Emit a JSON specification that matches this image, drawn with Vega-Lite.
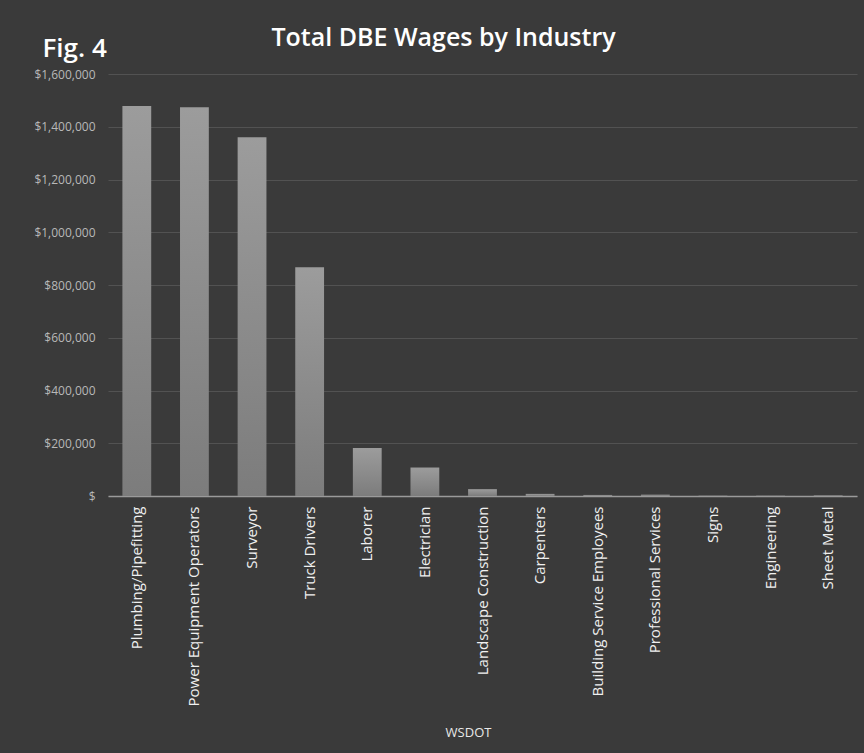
{
  "$schema": "https://vega.github.io/schema/vega-lite/v6.json",
  "width": 749,
  "height": 422,
  "autosize": {"type": "none"},
  "padding": {"left": 108, "top": 74, "right": 7, "bottom": 257},
  "background": "#3a3a3a",
  "title": {
    "text": "Total DBE Wages by Industry",
    "font": "Open Sans",
    "fontSize": 25,
    "fontWeight": 600,
    "color": "#ffffff",
    "anchor": "middle",
    "frame": "group",
    "dx": -39,
    "offset": -16
  },
  "data": {
    "values": [
      {"industry": "Plumbing/Pipefitting", "wages": 1479000},
      {"industry": "Power Equipment Operators", "wages": 1474000},
      {"industry": "Surveyor", "wages": 1360000},
      {"industry": "Truck Drivers", "wages": 867000},
      {"industry": "Laborer", "wages": 182000},
      {"industry": "Electrician", "wages": 108000},
      {"industry": "Landscape Construction", "wages": 26000},
      {"industry": "Carpenters", "wages": 8000},
      {"industry": "Building Service Employees", "wages": 4000},
      {"industry": "Professional Services", "wages": 5000},
      {"industry": "Signs", "wages": 1000},
      {"industry": "Engineering", "wages": 1000},
      {"industry": "Sheet Metal", "wages": 2000}
    ]
  },
  "mark": {
    "type": "bar",
    "color": {
      "gradient": "linear",
      "x1": 0, "y1": 0, "x2": 0, "y2": 1,
      "stops": [
        {"offset": 0, "color": "#9c9c9c"},
        {"offset": 1, "color": "#7c7c7c"}
      ]
    }
  },
  "encoding": {
    "x": {
      "field": "industry",
      "type": "nominal",
      "sort": null,
      "scale": {"paddingInner": 0.5, "paddingOuter": 0.25},
      "axis": {
        "title": "WSDOT",
        "titleFont": "Open Sans",
        "titleFontSize": 13,
        "titleFontWeight": "normal",
        "titleColor": "#e8e8e8",
        "titleY": 230,
        "titleX": 360,
        "labelAngle": -90,
        "labelFont": "Open Sans",
        "labelFontSize": 15,
        "labelColor": "#f0f0f0",
        "labelPadding": 10,
        "labelLimit": 250,
        "ticks": false,
        "domain": true,
        "domainColor": "#9a9a9a",
        "domainWidth": 1.5
      }
    },
    "y": {
      "field": "wages",
      "type": "quantitative",
      "scale": {"domain": [0, 1600000], "nice": false},
      "axis": {
        "values": [0, 200000, 400000, 600000, 800000, 1000000, 1200000, 1400000, 1600000],
        "labelExpr": "datum.value === 0 ? '$' : format(datum.value, '$,.0f')",
        "labelFont": "Open Sans",
        "labelFontSize": 12,
        "labelColor": "#b8b8b8",
        "labelPadding": 13,
        "ticks": false,
        "domain": false,
        "grid": true,
        "gridColor": "#525252",
        "gridWidth": 1,
        "title": "Fig. 4",
        "titleAngle": 0,
        "titleFont": "Open Sans",
        "titleFontSize": 26,
        "titleFontWeight": 600,
        "titleColor": "#ffffff",
        "titleAlign": "left",
        "titleBaseline": "alphabetic",
        "titleX": -66,
        "titleY": -18
      }
    }
  },
  "config": {
    "view": {"stroke": null}
  }
}
